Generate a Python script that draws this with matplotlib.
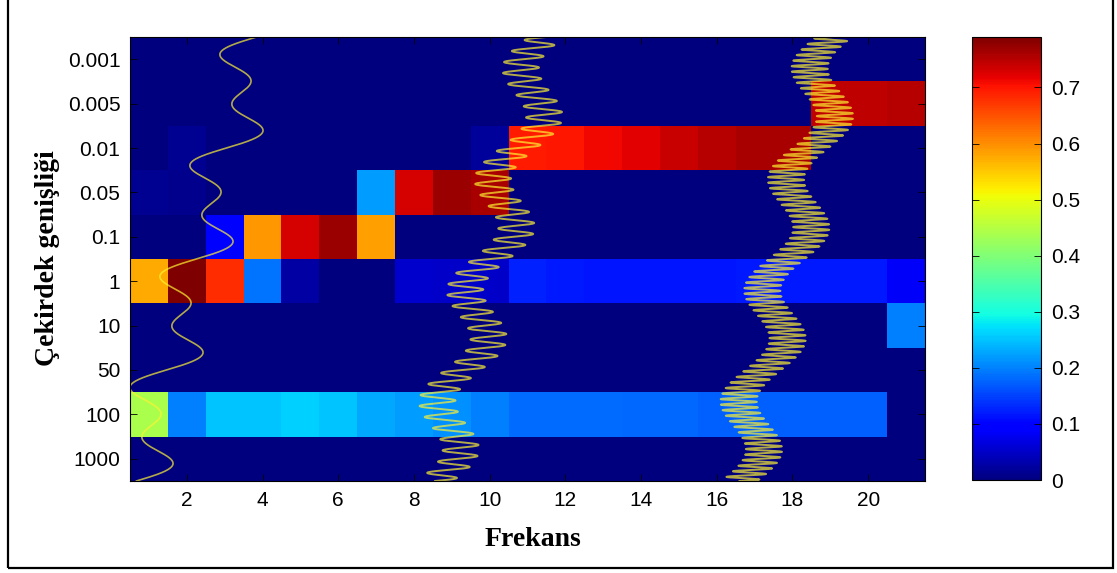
#!/usr/bin/env python
# coding: utf-8

import numpy as np
import matplotlib
matplotlib.use("Agg")
import matplotlib.pyplot as plt
from matplotlib.patches import Rectangle

## Data
frekans = list(range(1, 22))
genislik = ["0.001", "0.005", "0.01", "0.05", "0.1", "1", "10", "50", "100", "1000"]

# one row per kernel width, 21 frequencies each
row_0001 = [0.0] * 21
row_0005 = [0.0] * 18 + [0.745, 0.745, 0.75]
row_001 = [0.0, 0.015, 0.0, 0.0, 0.0, 0.0, 0.0, 0.0, 0.0, 0.02,
           0.695, 0.70, 0.71, 0.72, 0.74, 0.75, 0.76, 0.76, 0.0, 0.0, 0.0]
row_005 = [0.015, 0.01, 0.0, 0.0, 0.0, 0.0, 0.22, 0.73, 0.77, 0.76,
           0.0, 0.0, 0.0, 0.0, 0.0, 0.0, 0.0, 0.0, 0.0, 0.0, 0.0]
row_01 = [0.0, 0.0, 0.095, 0.59, 0.73, 0.77, 0.585, 0.0, 0.0, 0.0,
          0.0, 0.0, 0.0, 0.0, 0.0, 0.0, 0.0, 0.0, 0.0, 0.0, 0.0]
row_1 = [0.575, 0.79, 0.68, 0.19, 0.025, 0.0, 0.0, 0.055, 0.05, 0.05,
         0.125, 0.12, 0.115, 0.115, 0.115, 0.115, 0.12, 0.12, 0.12, 0.12, 0.085]
row_10 = [0.0] * 20 + [0.2]
row_50 = [0.0] * 21
row_100 = [0.44, 0.2, 0.25, 0.25, 0.26, 0.25, 0.23, 0.22, 0.21, 0.2,
           0.185, 0.185, 0.185, 0.18, 0.18, 0.175, 0.175, 0.175, 0.175, 0.175, 0.0]
row_1000 = [0.0] * 21

veri = np.array([row_0001, row_0005, row_001, row_005, row_01,
                 row_1, row_10, row_50, row_100, row_1000])

cbar_ticks = [0, 0.1, 0.2, 0.3, 0.4, 0.5, 0.6, 0.7]

# example signals drawn on top: base wave (4 cycles) + a second component
sig_base_cycles = 4
sig_cycles = [8, 40, 80]
sig_x_bottom = [0.67, 8.56, 16.6]
sig_x_top = [3.84, 11.5, 19.1]
sig_amp = 0.48
sig_lw = [1.2, 1.4, 1.4]

## Figure
fig = plt.figure(figsize=(11.17, 5.73), dpi=100)
ax = fig.add_axes([0.1164, 0.1606, 0.7117, 0.7748])
cax = fig.add_axes([0.8702, 0.1623, 0.0618, 0.7731])

im = ax.imshow(veri, cmap="jet", vmin=0, vmax=0.79, aspect="auto",
               interpolation="nearest", extent=(0.5, 21.5, 10.5, 0.5))

t = np.linspace(0, 1, 8000)
for f, xb, xt, lw in zip(sig_cycles, sig_x_bottom, sig_x_top, sig_lw):
    sig = np.sin(2 * np.pi * sig_base_cycles * t) + np.sin(2 * np.pi * f * t)
    xs = xb + (xt - xb) * t + sig_amp * sig
    ys = 10.5 - 10 * t
    ax.plot(xs, ys, color=(1.0, 0.95, 0.2), alpha=0.7, lw=lw)

ax.set_xlim(0.5, 21.5)
ax.set_ylim(10.5, 0.5)
ax.set_xticks(range(2, 21, 2))
ax.set_yticks(range(1, 11))
ax.set_yticklabels(genislik)

tick_font = {"family": "Liberation Sans", "size": 15}
for lab in ax.get_xticklabels() + ax.get_yticklabels():
    lab.set_fontproperties(tick_font)
ax.tick_params(direction="in", length=5, width=0.6, top=True, right=True,
               colors="black", pad=7)
for s in ax.spines.values():
    s.set_linewidth(0.8)

cb = fig.colorbar(im, cax=cax, ticks=cbar_ticks)
cb.ax.set_yticklabels([f"{v:g}" for v in cbar_ticks])
for lab in cb.ax.get_yticklabels():
    lab.set_fontproperties(tick_font)
cb.ax.tick_params(direction="in", length=5, width=0.6, left=True, right=True, pad=7)
cb.outline.set_linewidth(0.8)

label_font = {"family": "Liberation Serif", "size": 20, "weight": "bold"}
fig.text(533 / 1117, 1 - 539 / 573, "Frekans", ha="center", va="center", **label_font)
fig.text(48 / 1117, 1 - 258 / 573, "Çekirdek genişliği", ha="center", va="center",
         rotation=90, **label_font)

# frame around the whole figure
fig.patches.append(Rectangle((8 / 1117, 5 / 573), 1105 / 1117, 1.0,
                             transform=fig.transFigure, fill=False,
                             edgecolor="black", lw=1.6))

fig.savefig("out.png", dpi=100)
